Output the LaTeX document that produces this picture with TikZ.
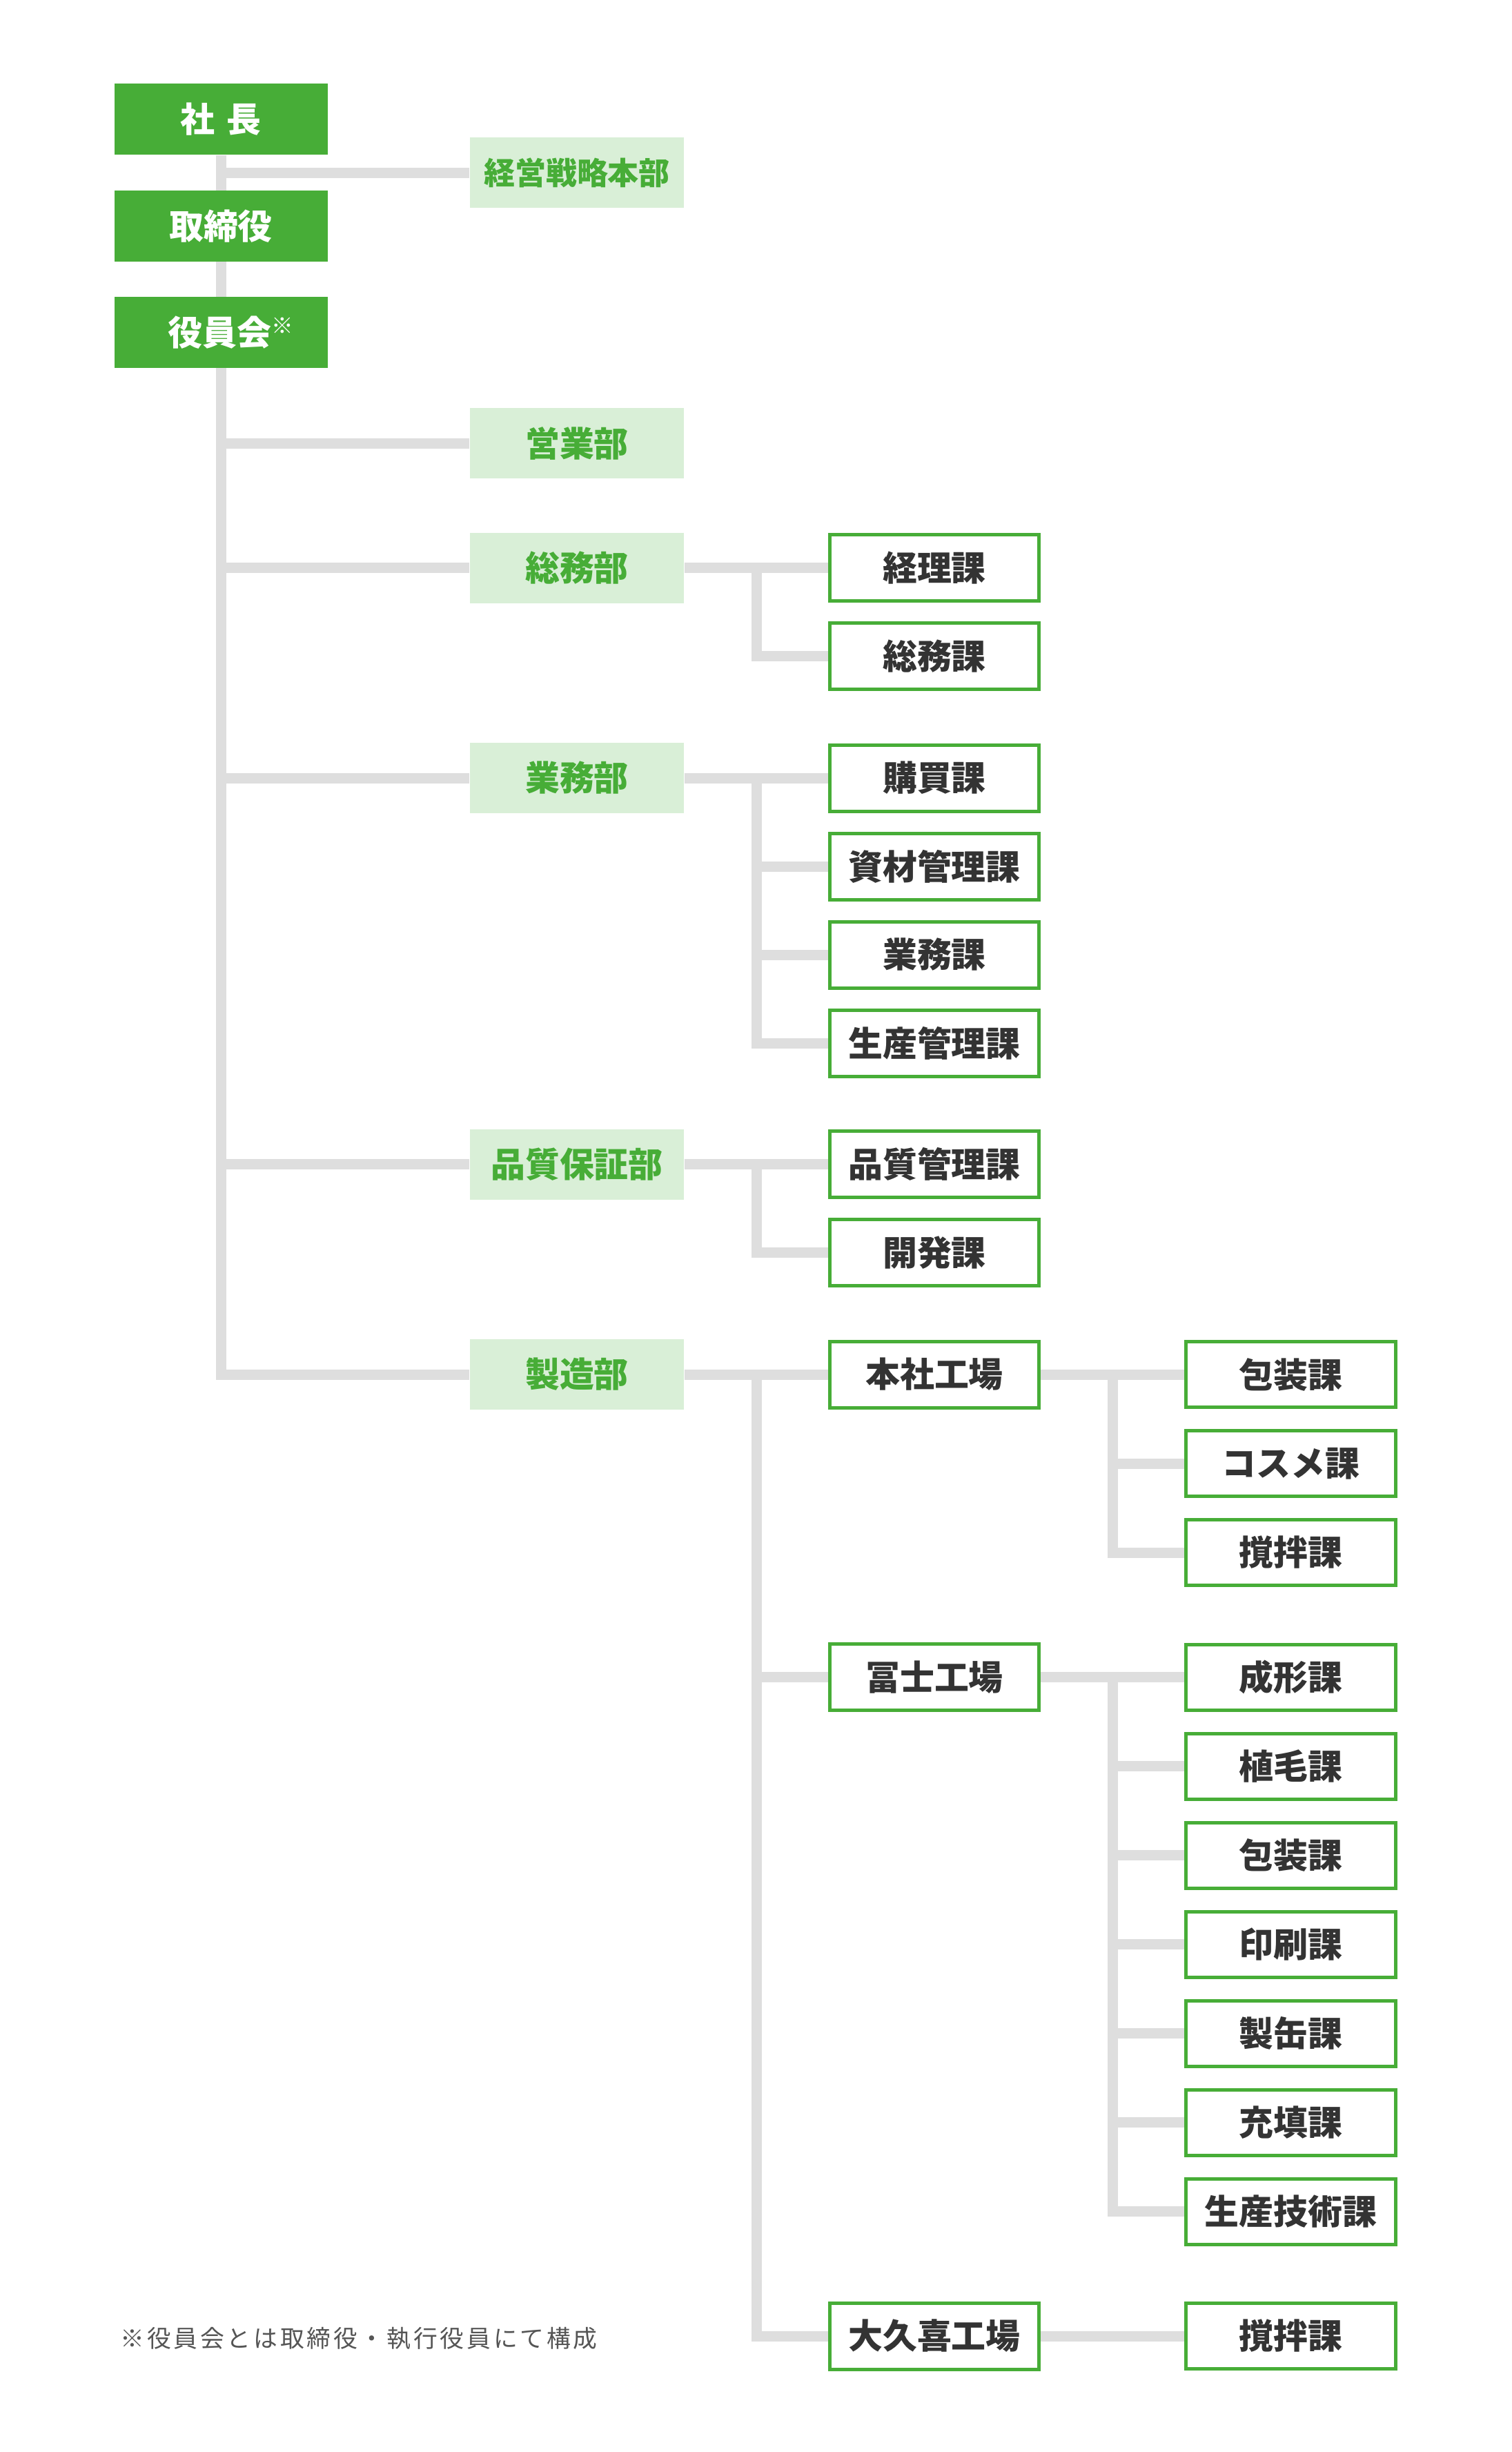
\documentclass[tikz,border=0pt]{standalone}
\usepackage{fontspec}
\setmainfont{Noto Sans CJK JP}
\newfontfamily\notefont{Noto Sans CJK JP}[LetterSpace=11]
\usepackage{tikz}
\usetikzlibrary{backgrounds}
\definecolor{corpgreen}{HTML}{47AD37}
\definecolor{palegreen}{HTML}{D9EFD7}
\definecolor{linegray}{HTML}{DEDEDE}
\definecolor{textgray}{HTML}{333333}
\definecolor{notegray}{HTML}{555555}
\tikzset{
	boxfont/.style={font=\bfseries\fontsize{14.2pt}{16pt}\selectfont},
	topbox/.style={boxfont,fill=corpgreen,text=white,inner sep=0pt,minimum width=3.09cm,minimum height=1.03cm},
	deptbox/.style={boxfont,fill=palegreen,text=corpgreen,inner sep=0pt,minimum width=3.10cm,minimum height=1.02cm},
	secbox/.style={boxfont,draw=corpgreen,line width=0.05cm,fill=white,text=textgray,inner sep=0pt,minimum width=3.03cm,minimum height=0.96cm},
	subbox/.style={secbox,minimum width=3.04cm,minimum height=0.95cm},
	conn/.style={draw=linegray,line width=0.15cm}
}

\begin{document}
\begin{tikzpicture}[node distance=1.28cm]
	\useasboundingbox (0,0) rectangle (21.9,-35.52);

	\node[topbox]  (shacho)      at (3.20,-1.725)                        {社\hspace{0.17cm}長};
	\node[topbox]  (torishimari) [below of=shacho, node distance=1.55cm] {取締役};
	\node[topbox]  (yakuin)      [below of=torishimari, node distance=1.54cm] {\hspace{0.28cm}役員会\raisebox{0.17cm}{\fontsize{9pt}{10pt}\selectfont ※}};

	\node[deptbox,font=\bfseries\fontsize{12.8pt}{14pt}\selectfont] (keiei) at (8.36,-2.50) {経営戦略本部};
	\node[deptbox] (eigyo)     at (8.36,-6.42)   {営業部};
	\node[deptbox] (somu)      at (8.36,-8.225)  {総務部};
	\node[deptbox] (gyomu)     at (8.36,-11.27)  {業務部};
	\node[deptbox] (hinshitsu) at (8.36,-16.865) {品質保証部};
	\node[deptbox] (seizo)     at (8.36,-19.91)  {製造部};

	\node[secbox]  (keiri)     at (13.54,-8.225)       {経理課};
	\node[secbox]  (somuka)    [below of=keiri]        {総務課};

	\node[secbox]  (kobai)     at (13.54,-11.27)       {購買課};
	\node[secbox]  (shizai)    [below of=kobai]        {資材管理課};
	\node[secbox]  (gyomuka)   [below of=shizai]       {業務課};
	\node[secbox]  (seisan)    [below of=gyomuka]      {生産管理課};

	\node[secbox]  (hinkan)    at (13.54,-16.865)      {品質管理課};
	\node[secbox]  (kaihatsu)  [below of=hinkan]       {開発課};

	\node[secbox]  (honsha)    at (13.54,-19.91)       {本社工場};
	\node[secbox]  (fuji)      at (13.54,-24.295)      {冨士工場};
	\node[secbox]  (okuki)     at (13.54,-33.84)       {大久喜工場};

	\begin{scope}[node distance=1.29cm]
		\node[subbox] (hoso)     at (18.705,-19.91)   {包装課};
		\node[subbox] (cosme)    [below of=hoso]      {コスメ課};
		\node[subbox] (kakuhan)  [below of=cosme]     {撹拌課};

		\node[subbox] (seikei)   at (18.705,-24.295)  {成形課};
		\node[subbox] (shokumo)  [below of=seikei]    {植毛課};
		\node[subbox] (fujihoso) [below of=shokumo]   {包装課};
		\node[subbox] (insatsu)  [below of=fujihoso]  {印刷課};
		\node[subbox] (seikan)   [below of=insatsu]   {製缶課};
		\node[subbox] (juten)    [below of=seikan]    {充填課};
		\node[subbox] (gijutsu)  [below of=juten]     {生産技術課};

		\node[subbox] (okukaku)  at (18.705,-33.84)   {撹拌課};
	\end{scope}

	\node[anchor=west,text=notegray,font=\notefont\fontsize{9.9pt}{12pt}\selectfont] (note) at (1.62,-33.88) {※役員会とは取締役・執行役員にて構成};

	\begin{scope}[on background layer]
		\path[conn] (shacho.south) |- (seizo.west);
		\foreach \d in {keiei,eigyo,somu,gyomu,hinshitsu}
			\path[conn] (shacho.south |- \d) -- (\d.west);

		\path[conn] (somu.east) -- (keiri.west);
		\path[conn] (somu.east) ++(1.045,0) |- (somuka.west);

		\path[conn] (gyomu.east) -- (kobai.west);
		\foreach \s in {shizai,gyomuka,seisan}
			\path[conn] (gyomu.east) ++(1.045,0) |- (\s.west);

		\path[conn] (hinshitsu.east) -- (hinkan.west);
		\path[conn] (hinshitsu.east) ++(1.045,0) |- (kaihatsu.west);

		\path[conn] (seizo.east) -- (honsha.west);
		\foreach \s in {fuji,okuki}
			\path[conn] (seizo.east) ++(1.045,0) |- (\s.west);

		\path[conn] (honsha.east) -- (hoso.west);
		\foreach \s in {cosme,kakuhan}
			\path[conn] (honsha.east) ++(1.04,0) |- (\s.west);

		\path[conn] (fuji.east) -- (seikei.west);
		\foreach \s in {shokumo,fujihoso,insatsu,seikan,juten,gijutsu}
			\path[conn] (fuji.east) ++(1.04,0) |- (\s.west);

		\path[conn] (okuki.east) -- (okukaku.west);
	\end{scope}
\end{tikzpicture}
\end{document}
